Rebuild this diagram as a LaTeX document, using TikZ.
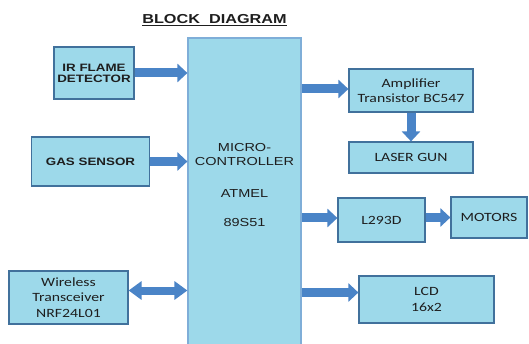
\documentclass[tikz,border=0pt]{standalone}
\usepackage{fontspec}
\usetikzlibrary{arrows.meta}
\newfontfamily\arialf[FakeStretch=1.25]{Liberation Sans}
\newfontfamily\calf[FakeStretch=1.25]{Carlito}
\definecolor{boxc}{HTML}{9DD9EA}
\definecolor{bordc}{HTML}{41719C}
\definecolor{mbordc}{HTML}{7FAED8}
\definecolor{arrc}{HTML}{4A84C7}
\definecolor{txtc}{HTML}{1E1E1E}
\begin{document}
\begin{tikzpicture}[x=1pt,y=-1pt,
  box/.style={draw=bordc, fill=boxc, line width=1.2pt, inner sep=0pt, align=center, text=txtc},
  boldtxt/.style={font=\arialf\bfseries\fontsize{10.7}{11}\selectfont},
  caltxt/.style={font=\calf\fontsize{12.6}{15.5}\selectfont},
  mtxt/.style={font=\arialf\fontsize{11.6}{15}\selectfont, text=txtc, inner sep=0pt},
  conn/.style={draw=arrc, line width=9pt, -{Triangle[length=10pt,width=18pt]}},
  dconn/.style={draw=arrc, line width=8pt, {Triangle[length=13pt,width=18pt]}-{Triangle[length=13pt,width=18pt]}}]
\useasboundingbox (0,0) rectangle (529,344);
\fill[white] (0,0) rectangle (529,344);
% title
\node[inner sep=0pt, font=\arialf\bfseries\fontsize{13}{15}\selectfont, text=txtc] (title) at (214.5,20) {\underline{BLOCK\ \ DIAGRAM}};
% micro-controller
\node[box, draw=mbordc, minimum width=113pt, minimum height=308pt] (micro) at (244.5,192) {};
\node[mtxt] (m1) at (244.5,147.5) {MICRO-};
\node[mtxt] (m2) at (244.5,161.5) {CONTROLLER};
\node[mtxt] (m3) at (244.5,193.5) {ATMEL};
\node[mtxt] (m4) at (244.5,223) {89S51};
% left blocks
\node[box, boldtxt, minimum width=80pt, minimum height=52pt] (ir) at (94,73) {IR FLAME\\DETECTOR};
\node[box, boldtxt, minimum width=118pt, minimum height=49pt] (gas) at (90.5,161.5) {GAS SENSOR};
\node[box, caltxt, minimum width=119pt, minimum height=53pt] (wl) at (68.5,297.5) {Wireless\\Transceiver\\NRF24L01};
% right blocks
\node[box, caltxt, minimum width=124pt, minimum height=43pt] (amp) at (411,90.5) {Amplifier\\Transistor BC547};
\node[box, caltxt, minimum width=124pt, minimum height=31pt] (laser) at (411,157.5) {LASER GUN};
\node[box, caltxt, minimum width=87pt, minimum height=44pt] (l293) at (381.5,220) {L293D};
\node[box, caltxt, minimum width=76pt, minimum height=41pt] (motors) at (489,217.5) {MOTORS};
\node[box, caltxt, minimum width=135pt, minimum height=47pt] (lcd) at (426.5,299.5) {LCD\\16x2};
% connectors
\draw[conn] (ir.east) -- (ir.east -| micro.west);
\draw[conn] (gas.east) -- (gas.east -| micro.west);
\draw[conn] ([yshift=1.5pt]amp.west -| micro.east) -- ([yshift=1.5pt]amp.west);
\draw[conn] (amp.south) -- (laser.north);
\draw[conn] ([yshift=2pt]l293.west -| micro.east) -- ([yshift=2pt]l293.west);
\draw[conn] (l293.east |- motors.west) -- (motors.west);
\draw[conn] ([yshift=7pt]lcd.west -| micro.east) -- ([yshift=7pt]lcd.west);
\draw[dconn] ([yshift=7pt]wl.east) -- ([yshift=7pt]wl.east -| micro.west);
\end{tikzpicture}
\end{document}
